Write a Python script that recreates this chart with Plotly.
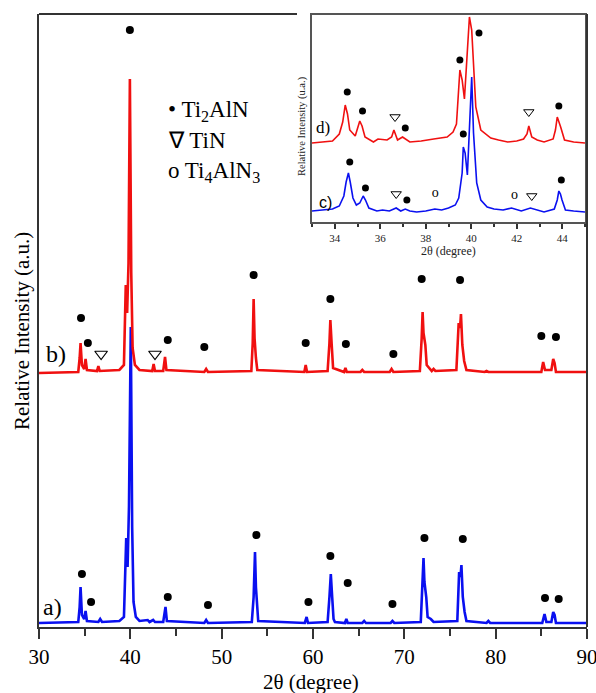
import plotly.graph_objects as go

# ---------------- main pattern data (2θ in degrees, intensity in a.u.) ----------------
a_x = [30.0, 34.3, 34.45, 34.55, 34.7, 34.95, 35.1, 35.25, 36.5, 36.7, 36.9, 38.8, 39.3, 39.55, 39.7,
       39.85, 40.05, 40.2, 40.35, 40.6, 41.0, 41.9, 42.1, 42.5, 42.7, 43.6, 43.85, 44.0, 48.1, 48.3, 48.5,
       53.3, 53.5, 53.65, 53.75, 53.85, 54.0, 59.1, 59.3, 59.45, 61.6, 61.8, 61.95, 62.1, 62.25, 62.4,
       63.5, 63.65, 63.8, 65.4, 65.6, 65.8, 68.5, 68.7, 68.9, 71.8, 72.0, 72.1, 72.2, 72.4, 72.55, 72.9,
       73.2, 75.8, 76.0, 76.15, 76.25, 76.4, 76.6, 76.8, 79.0, 79.2, 79.4, 85.1, 85.35, 85.55, 86.1, 86.3,
       86.45, 86.6, 90.0]
a_y = [4, 5, 20, 40, 12, 8, 16, 6, 5, 8, 5, 6, 10, 89, 60,
       120, 300, 100, 25, 10, 6, 7, 5, 7, 5, 5, 20, 6, 4, 7, 4,
       5, 30, 75, 40, 20, 6, 4, 10, 4, 5, 30, 53, 30, 8, 5,
       4, 8, 4, 4, 6, 4, 4, 6, 4, 5, 40, 69, 45, 30, 10, 8,
       5, 6, 55, 50, 62, 30, 15, 6, 4, 6, 4, 4, 13, 5, 5, 15,
       12, 4, 4]

b_offset = 254
b_x = [30.0, 34.3, 34.45, 34.55, 34.7, 34.95, 35.1, 35.25, 36.35, 36.5, 36.65, 38.8, 39.3, 39.5, 39.65,
       39.8, 39.95, 40.1, 40.25, 40.5, 41.0, 42.4, 42.55, 42.7, 43.6, 43.8, 43.95, 48.1, 48.3, 48.5,
       53.25, 53.4, 53.5, 53.6, 53.75, 53.9, 59.05, 59.2, 59.35, 61.6, 61.8, 61.9, 62.05, 62.2, 63.4,
       63.55, 63.7, 65.2, 65.4, 65.6, 68.4, 68.6, 68.8, 71.7, 71.9, 72.0, 72.1, 72.3, 72.45, 73.0, 73.2,
       73.4, 75.7, 75.95, 76.1, 76.2, 76.35, 76.55, 76.8, 78.8, 79.0, 79.2, 85.0, 85.2, 85.4, 86.1, 86.3,
       86.45, 86.6, 90.0]
b_y = [0, 1, 15, 30, 8, 4, 14, 3, 2, 7, 2, 3, 8, 88, 60,
       110, 294, 100, 25, 8, 3, 2, 9, 2, 2, 16, 3, 1, 4, 1,
       2, 30, 74, 35, 15, 3, 1, 8, 1, 2, 30, 53, 28, 5, 1,
       5, 1, 1, 3, 1, 1, 4, 1, 2, 35, 61, 40, 28, 8, 2, 4,
       2, 3, 50, 45, 59, 28, 12, 3, 1, 2, 1, 1, 11, 3, 3, 14,
       10, 1, 1]

# phase markers on the main panel
a_dot_x = [34.7, 35.7, 44.1, 48.5, 53.8, 59.5, 61.9, 63.8, 68.7, 72.2, 76.4, 85.4, 86.9]
a_dot_y = [53, 25, 30, 22, 92, 25, 71, 44, 23, 89, 88, 29, 28]
b_dot_x = [34.6, 35.35, 44.1, 48.1, 53.5, 59.2, 61.9, 63.6, 68.8, 71.9, 76.1, 85.0, 86.6, 39.95]
b_dot_y = [309, 284, 287, 280, 352, 284, 328, 283, 273, 348, 347, 291, 290, 597]
b_tri_x = [36.8, 42.7]
b_tri_y = [273, 273]

main_ticks = [30, 40, 50, 60, 70, 80, 90]

# ---------------- inset data ----------------
c_x = [33.0, 33.4, 33.9, 34.2, 34.4, 34.5, 34.6, 34.68, 34.8, 34.95, 35.1, 35.25, 35.35, 35.5, 35.85,
       36.1, 36.4, 36.7, 36.9, 37.1, 37.3, 37.6, 38.0, 38.4, 38.7, 39.0, 39.3, 39.45, 39.6, 39.65,
       39.73, 39.83, 39.94, 40.02, 40.1, 40.24, 40.42, 40.7, 41.0, 41.4, 41.77, 42.0, 42.2, 42.6, 42.9,
       43.2, 43.65, 43.78, 43.85, 43.92, 43.99, 44.14, 44.5, 45.0]
c_y = [11, 12, 13, 16, 26, 40, 49, 40, 24, 17, 19, 26, 22, 14, 11,
       12, 11, 14, 11, 13, 11, 10, 11, 13, 12, 14, 17, 24, 49, 75,
       69, 47, 105, 145, 89, 39, 22, 15, 13, 12, 14, 12, 11, 14, 12,
       10, 13, 22, 31, 28, 22, 12, 11, 10]

d_x = [33.0, 33.5, 33.9, 34.2, 34.35, 34.46, 34.56, 34.66, 34.9, 35.1, 35.2, 35.33, 35.7, 35.9, 36.3,
       36.5, 36.6, 36.76, 36.98, 37.3, 37.8, 38.35, 38.94, 39.2, 39.35, 39.5, 39.6, 39.7, 39.83, 39.92,
       40.02, 40.2, 40.42, 40.86, 41.2, 41.6, 42.0, 42.3, 42.45, 42.53, 42.66, 42.9, 43.2, 43.6, 43.7,
       43.78, 43.93, 44.1, 44.5, 45.0]
d_y = [79, 80, 81, 88, 100, 117, 108, 92, 86, 101, 96, 85, 80, 83, 82,
       85, 92, 82, 85, 80, 81, 83, 85, 90, 98, 152, 142, 123, 172, 205,
       192, 115, 92, 84, 82, 80, 81, 83, 88, 96, 85, 82, 80, 83, 92,
       105, 95, 82, 80, 79]

c_dot_x = [34.66, 35.35, 37.17, 39.65, 43.96]
c_dot_y = [60, 34, 22, 88, 42]
c_tri_x = [36.7, 42.66]
c_tri_y = [28, 26]
c_o_x = [38.42, 41.9]
c_o_y = [29, 27]
d_dot_x = [34.55, 35.22, 37.1, 39.5, 40.34, 43.85]
d_dot_y = [130, 111, 94, 162, 189, 116]
d_tri_x = [36.65, 42.53]
d_tri_y = [105, 110]

inset_ticks = [34, 36, 38, 40, 42, 44]

# ---------------- figure ----------------
SERIF = "Liberation Serif, Times New Roman, serif"
BLUE = "#0a10f0"
RED = "#f01010"
AXC = "#333333"

fig = go.Figure()

fig.add_trace(go.Scatter(x=a_x, y=a_y, mode="lines", line=dict(color=BLUE, width=2.6),
                         xaxis="x", yaxis="y", showlegend=False, hoverinfo="skip"))
fig.add_trace(go.Scatter(x=b_x, y=[v + b_offset for v in b_y], mode="lines",
                         line=dict(color=RED, width=2.6), xaxis="x", yaxis="y",
                         showlegend=False, hoverinfo="skip"))
fig.add_trace(go.Scatter(x=a_dot_x + b_dot_x, y=a_dot_y + b_dot_y, mode="markers",
                         marker=dict(symbol="circle", size=8, color="black"),
                         xaxis="x", yaxis="y", showlegend=False, hoverinfo="skip"))
fig.add_trace(go.Scatter(x=b_tri_x, y=b_tri_y, mode="markers",
                         marker=dict(symbol="triangle-down-open", size=11, color="black",
                                     line=dict(width=1.2, color="black")),
                         xaxis="x", yaxis="y", showlegend=False, hoverinfo="skip"))

# inset traces
fig.add_trace(go.Scatter(x=c_x, y=c_y, mode="lines", line=dict(color=BLUE, width=1.6),
                         xaxis="x2", yaxis="y2", showlegend=False, hoverinfo="skip"))
fig.add_trace(go.Scatter(x=d_x, y=d_y, mode="lines", line=dict(color=RED, width=1.6),
                         xaxis="x2", yaxis="y2", showlegend=False, hoverinfo="skip"))
fig.add_trace(go.Scatter(x=c_dot_x + d_dot_x, y=c_dot_y + d_dot_y, mode="markers",
                         marker=dict(symbol="circle", size=7, color="black"),
                         xaxis="x2", yaxis="y2", showlegend=False, hoverinfo="skip"))
fig.add_trace(go.Scatter(x=c_tri_x + d_tri_x, y=c_tri_y + d_tri_y, mode="markers",
                         marker=dict(symbol="triangle-down-open", size=9, color="black",
                                     line=dict(width=1, color="black")),
                         xaxis="x2", yaxis="y2", showlegend=False, hoverinfo="skip"))
fig.add_trace(go.Scatter(x=c_o_x, y=c_o_y, mode="text", text=["o"] * len(c_o_x),
                         textfont=dict(family=SERIF, size=14, color="black"),
                         textposition="middle center",
                         xaxis="x2", yaxis="y2", showlegend=False, hoverinfo="skip"))

L, R, T, B = 39, 587, 14, 627
W, H = 596, 693
pw, ph = R - L, B - T


def px(xp):
    return (xp - L) / pw


def py(yp):
    return (B - yp) / ph


fig.update_layout(
    width=W, height=H,
    margin=dict(l=L, r=W - R, t=T, b=H - B, autoexpand=False),
    paper_bgcolor="white", plot_bgcolor="white",
    font=dict(family=SERIF, color="black"),
    xaxis=dict(domain=[0, 1], range=[30, 90], tickvals=main_ticks,
               ticktext=[str(v) for v in main_ticks],
               ticks="outside", ticklen=10, tickwidth=2, tickcolor=AXC,
               minor=dict(ticks="outside", ticklen=7, tickwidth=2, tickcolor=AXC, dtick=5, tick0=30),
               showline=True, linewidth=2, linecolor=AXC, mirror=False,
               showgrid=False, zeroline=False, automargin=False, ticklabeloverflow="allow",
               tickfont=dict(family=SERIF, size=21, color="black")),
    yaxis=dict(domain=[0, 1], range=[0, 613], showticklabels=False, ticks="",
               showline=True, linewidth=2, linecolor=AXC, mirror=False,
               showgrid=False, zeroline=False),
    xaxis2=dict(domain=[px(312), px(585)], anchor="y2", range=[33, 45], tickvals=inset_ticks,
                ticktext=[str(v) for v in inset_ticks],
                ticks="outside", ticklen=5, tickwidth=1.5, tickcolor=AXC,
                minor=dict(ticks="outside", ticklen=3, tickwidth=1.5, tickcolor=AXC, dtick=1, tick0=33),
                showline=True, linewidth=2, linecolor="#555555", mirror=True,
                showgrid=False, zeroline=False,
                tickfont=dict(family=SERIF, size=11, color="#222222")),
    yaxis2=dict(domain=[py(222), py(15)], anchor="x2", range=[0, 207], showticklabels=False,
                ticks="", showline=True, linewidth=2, linecolor="#555555", mirror=True,
                showgrid=False, zeroline=False),
)

# main frame: right edge and top edge (the top edge is hidden behind the inset)
fig.add_shape(type="line", xref="paper", yref="paper", x0=1, x1=1, y0=0, y1=1,
              line=dict(color=AXC, width=2))
fig.add_shape(type="line", xref="paper", yref="paper", x0=0, x1=px(297), y0=1, y1=1,
              line=dict(color=AXC, width=2))


def note(text, x, y, size, xref="paper", yref="paper", xanchor="center", angle=0,
         family=SERIF, color="black"):
    return dict(text=text, xref=xref, yref=yref, x=x, y=y, xanchor=xanchor, yanchor="middle",
                textangle=angle, showarrow=False, font=dict(family=family, size=size, color=color))


ann = [
    # axis titles
    note("2θ (degree)", px(311), py(682), 21),
    note("Relative Intensity (a.u.)", px(22), py(331), 21, angle=-90),
    # series labels
    note("a)", 31.5, 20, 24, xref="x", yref="y"),
    note("b)", 31.85, 273, 24, xref="x", yref="y"),
    # phase key
    note("• Ti<sub>2</sub>AlN", px(166), py(111), 23, xanchor="left"),
    note("∇ TiN", px(166), py(141), 23, xanchor="left"),
    note("o Ti<sub>4</sub>AlN<sub>3</sub>", px(166), py(172), 23, xanchor="left"),
    # inset texts
    note("2θ (degree)", px(448), py(251), 12, color="#222222"),
    note("Relative Intensity (u.a.)", px(302), py(126), 10.5, angle=-90, color="#222222"),
    note("d)", 33.5, 95, 17, xref="x2", yref="y2"),
    note("c)", 33.58, 20, 16, xref="x2", yref="y2", family="Liberation Sans"),
]
fig.update_layout(annotations=ann)

fig.write_html("out.html", config={"displayModeBar": False},
               post_script="document.body.style.margin='0px';")
